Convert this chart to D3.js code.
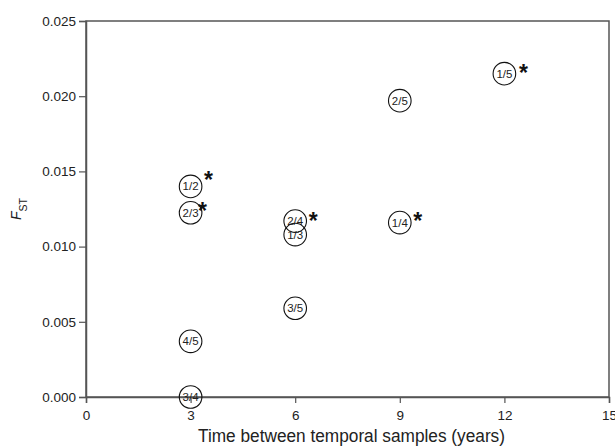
<!DOCTYPE html>
<html>
<head>
<meta charset="utf-8">
<script src="https://cdn.jsdelivr.net/npm/d3@7"></script>
<style>
  body { margin: 0; background: #fff; }
  text { font-family: "Liberation Sans", Arial, sans-serif; }
</style>
</head>
<body>
<script>
// sample pairs, time between samples (years) and pairwise Fst
var pairs = ["1/2", "2/3", "3/4", "4/5", "2/4", "1/3", "3/5", "2/5", "1/4", "1/5"];
var years = [3, 3, 3, 3, 6, 6, 6, 9, 9, 12];
var fst = [0.0140, 0.01225, 0.0000, 0.0037, 0.0117, 0.0108, 0.0059, 0.0197, 0.0116, 0.0215];
var significant = [true, true, false, false, true, false, false, false, true, true];

var xTicks = [0, 3, 6, 9, 12, 15];
var yTicks = [0, 0.005, 0.010, 0.015, 0.020, 0.025];

// star nudges so they don't sit on the neighbouring circle
var starNudge = {"1/2": [18, -12], "2/3": [12, -7], "2/4": [18, -6], "1/4": [18, -7], "1/5": [19, -6]};

var margin = {top: 21, right: 6, bottom: 51, left: 86},
    width = 615 - margin.left - margin.right,
    height = 448 - margin.top - margin.bottom;

var svg = d3.select("body")
    .append("svg")
    .attr("width", 615)
    .attr("height", 448);

var g = svg.append("g")
    .attr("transform", "translate(" + margin.left + "," + margin.top + ")");

var x = d3.scaleLinear().domain([0, 15]).range([0, width]);
var y = d3.scaleLinear().domain([0, 0.025]).range([height, 0]);

// frame
g.append("rect")
    .attr("x", 0).attr("y", 0)
    .attr("width", width).attr("height", height)
    .style("fill", "none")
    .style("stroke", "#555")
    .style("stroke-width", 1.5);

var xAxis = g.append("g")
    .attr("transform", "translate(0," + height + ")")
    .call(d3.axisBottom(x).tickValues(xTicks).tickSize(6).tickPadding(7).tickFormat(d3.format("d")));

var yAxis = g.append("g")
    .call(d3.axisLeft(y).tickValues(yTicks).tickSize(7).tickPadding(3).tickFormat(d3.format(".3f")));

[xAxis, yAxis].forEach(function(a) {
    a.select(".domain").style("stroke", "#555").style("stroke-width", 1.5);
    a.selectAll(".tick line").style("stroke", "#555").style("stroke-width", 1.2);
    a.selectAll(".tick text")
        .style("font-family", "'Liberation Sans', Arial, sans-serif")
        .style("font-size", "13.5px")
        .style("fill", "#222");
});

var data = pairs.map(function(p, i) {
    return {pair: p, year: years[i], fst: fst[i], sig: significant[i]};
});

var pt = g.selectAll(".pt")
    .data(data)
    .enter()
    .append("g")
    .attr("class", "pt")
    .attr("transform", function(d) { return "translate(" + x(d.year) + "," + y(d.fst) + ")"; });

pt.append("circle")
    .attr("r", 11.3)
    .style("fill", "none")
    .style("stroke", "#111")
    .style("stroke-width", 1.1);

pt.append("text")
    .attr("text-anchor", "middle")
    .attr("y", 4)
    .style("font-size", "11.5px")
    .style("fill", "#222")
    .text(function(d) { return d.pair; });

pt.filter(function(d) { return d.sig; })
    .append("text")
    .attr("text-anchor", "middle")
    .attr("x", function(d) { return starNudge[d.pair][0]; })
    .attr("y", function(d) { return starNudge[d.pair][1] + 13.5; })
    .style("font-size", "23px")
    .style("font-weight", "bold")
    .style("fill", "#111")
    .text("*");

// axis titles
svg.append("text")
    .attr("x", 351.5)
    .attr("y", 442)
    .attr("text-anchor", "middle")
    .attr("textLength", 307)
    .attr("lengthAdjust", "spacingAndGlyphs")
    .style("font-size", "17.5px")
    .style("fill", "#222")
    .text("Time between temporal samples (years)");

var yt = svg.append("text")
    .attr("transform", "translate(21," + (margin.top + height / 2) + ") rotate(-90)")
    .attr("text-anchor", "middle")
    .style("font-size", "14px")
    .style("fill", "#222");
yt.append("tspan").style("font-style", "italic").text("F");
yt.append("tspan").attr("dy", 6).style("font-size", "10.5px").text("ST");
</script>
</body>
</html>
